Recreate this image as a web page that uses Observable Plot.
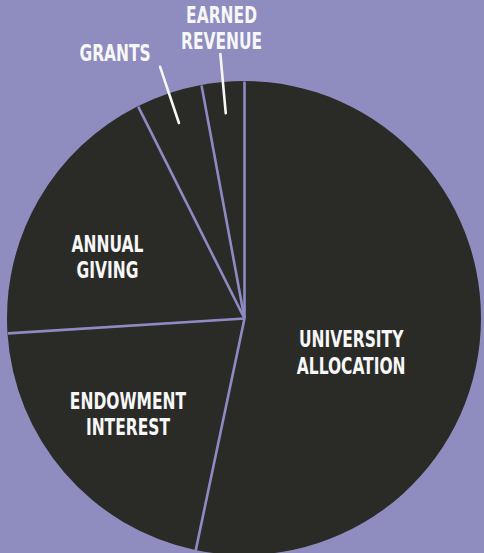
<!DOCTYPE html>
<html>
<head>
<meta charset="utf-8">
<script src="https://cdn.jsdelivr.net/npm/d3@7"></script>
<script src="https://cdn.jsdelivr.net/npm/@observablehq/plot@0.6"></script>
<style>
  html, body { margin: 0; padding: 0; background: #8f8cc0; }
  #chart { width: 484px; height: 553px; overflow: hidden; }
</style>
</head>
<body>
<div id="chart"></div>
<script>
// ---- data ----
const categories = ["University Allocation", "Endowment Interest", "Annual Giving", "Grants", "Earned Revenue"];
const shares = [53.3, 20.7, 18.6, 4.5, 2.9];
const labelTexts = ["UNIVERSITY\nALLOCATION", "ENDOWMENT\nINTEREST", "ANNUAL\nGIVING", "GRANTS", "EARNED\nREVENUE"];

// ---- styling / layout ----
const BG = "#8f8cc0";
const DARK = "#2a2b27";
const DIVIDER = "#8e8bc4";
const WHITE = "#f7f7f7";
const R_PX = 237;
const inside = [true, true, true, false, false];
const labelRadius = [0.55, 0.55, 0.55, 1.2, 1.25];
const labelNudgePx = [[-23, 20], [-18, 10], [-24, 3], [-39, 4], [4, 4]];
const SX = 0.82, SY = 1.08, FS = 21;

const arcs = d3.pie().sort(null).value(d => d)(shares);
const rows = arcs.map((a, i) => {
  const mid = (a.startAngle + a.endAngle) / 2;
  const k = labelRadius[i];
  return {
    category: categories[i],
    label: labelTexts[i],
    inside: inside[i],
    start: a.startAngle,
    mid,
    lx: Math.sin(mid) * k + labelNudgePx[i][0] / R_PX,
    ly: Math.cos(mid) * k - labelNudgePx[i][1] / R_PX
  };
});

const outsideRows = rows.filter(d => !d.inside);

const slicesMark = (index, scales, values, dimensions, context) => {
  const cx = scales.x(0), cy = scales.y(0), r = scales.x(1) - scales.x(0);
  const arc = d3.arc().innerRadius(0).outerRadius(r);
  const g = d3.create("svg:g").attr("transform", `translate(${cx},${cy})`);
  g.selectAll("path").data(arcs).join("path")
    .attr("d", arc)
    .attr("fill", DARK);
  return g.node();
};

const chart = Plot.plot({
  width: 484,
  height: 553,
  margin: 0,
  style: { background: BG, overflow: "visible" },
  x: { domain: [-1, 1], range: [7, 481], axis: null },
  y: { domain: [-1, 1], range: [555, 81], axis: null },
  marks: [
    slicesMark,
    Plot.link(rows, {
      x1: 0, y1: 0,
      x2: d => Math.sin(d.start),
      y2: d => Math.cos(d.start),
      stroke: DIVIDER, strokeWidth: 2.6
    }),
    Plot.link(outsideRows, {
      x1: d => Math.sin(d.mid) * 0.87,
      y1: d => Math.cos(d.mid) * 0.87,
      x2: d => Math.sin(d.mid) * 1.12,
      y2: d => Math.cos(d.mid) * 1.12,
      stroke: WHITE, strokeWidth: 2.6, strokeLinecap: "round"
    }),
    Plot.text(rows, {
      x: "lx", y: "ly", text: "label",
      fill: WHITE,
      fontSize: FS,
      fontWeight: "bold",
      fontFamily: "'Liberation Sans Narrow', 'DejaVu Sans Condensed', sans-serif",
      lineHeight: 26.5 / SY / FS,
      textAnchor: "middle",
      className: "pie-label"
    })
  ]
});
chart.querySelectorAll(".pie-label text").forEach(t => {
  const tr = t.getAttribute("transform") || "";
  t.setAttribute("transform", `${tr} scale(${SX},${SY})`);
});
document.getElementById("chart").appendChild(chart);
</script>
</body>
</html>
